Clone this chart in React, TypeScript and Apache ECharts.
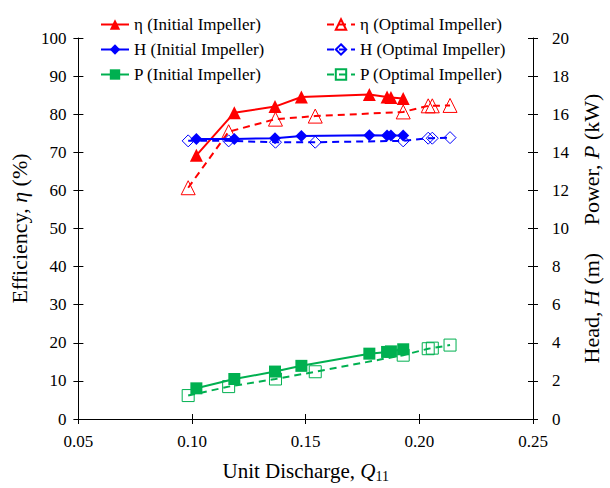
import React, { useEffect, useRef } from "react";
import * as echarts from "echarts";

// Unit discharge Q11 for each impeller's operating points
const Q_INIT = [0.1019, 0.1186, 0.1365, 0.1481, 0.178, 0.1858, 0.1875, 0.1929];
const Q_OPT = [0.0983, 0.1161, 0.1367, 0.1542, 0.1929, 0.2039, 0.2057, 0.2135];

// Efficiency (%)
const ETA_INIT = [69.2, 80.4, 82.0, 84.5, 85.2, 84.5, 84.4, 84.1];
const ETA_OPT = [60.7, 75.4, 78.7, 79.5, 80.6, 82.2, 82.2, 82.3];
// Head (m)
const H_INIT = [14.7, 14.7, 14.74, 14.86, 14.9, 14.88, 14.88, 14.88];
const H_OPT = [14.6, 14.6, 14.53, 14.53, 14.6, 14.74, 14.74, 14.77];
// Power (kW)
const P_INIT = [1.61, 2.1, 2.49, 2.79, 3.43, 3.52, 3.55, 3.66];
const P_OPT = [1.23, 1.7, 2.1, 2.48, 3.35, 3.69, 3.72, 3.88];

const NAMES = [
  "η (Initial Impeller)",
  "H (Initial Impeller)",
  "P (Initial Impeller)",
  "η (Optimal Impeller)",
  "H (Optimal Impeller)",
  "P (Optimal Impeller)",
];

const FONT = "'Liberation Serif', 'Times New Roman', serif";
const RED = "#ff0000";
const BLUE = "#0000ff";
const GREEN = "#00b050";

const pairs = (xs: number[], ys: number[]) => xs.map((x, i) => [x, ys[i]]);

export default function App() {
  const ref = useRef<HTMLDivElement>(null);

  useEffect(() => {
    if (!ref.current) return;
    const chart = echarts.init(ref.current, null, { renderer: "svg" });

    const solid = (name: string, color: string, symbol: string, size: number, data: number[][], yAxisIndex: number) => ({
      name,
      type: "line",
      yAxisIndex,
      data,
      symbol,
      symbolSize: size,
      itemStyle: { color },
      lineStyle: { color, width: 2 },
      z: 3,
    });
    const open = (name: string, color: string, symbol: string, size: number, data: number[][], yAxisIndex: number) => ({
      name,
      type: "line",
      yAxisIndex,
      data,
      symbol,
      symbolSize: size,
      itemStyle: { color: "rgba(255,255,255,0)", borderColor: color, borderWidth: 1 },
      lineStyle: { color, width: 2, type: [7, 5] },
      z: 2,
    });

    const axisText = { fontFamily: FONT, fontSize: 17, color: "#000" };
    const nameText = (size: number) => ({
      fontFamily: FONT,
      fontSize: size,
      color: "#000",
      rich: {
        i: { fontFamily: FONT, fontSize: size, fontStyle: "italic", color: "#000" },
        sub: { fontFamily: FONT, fontSize: 14, color: "#000", verticalAlign: "bottom", padding: [10, 0, 0, 0] },
      },
    });
    const line = { show: true, lineStyle: { color: "#000", width: 1 } };

    // Companion axes give each tick a half inside the plot area
    const innerX = {
      type: "value", min: 0.05, max: 0.25, interval: 0.05, position: "bottom",
      axisLine: { show: false }, axisLabel: { show: false }, splitLine: { show: false },
      axisTick: { show: true, inside: true, length: 5, lineStyle: { color: "#000" } },
    };
    const innerY = (pos: string, max: number, interval: number) => ({
      type: "value", min: 0, max, interval, position: pos,
      axisLine: { show: false }, axisLabel: { show: false }, splitLine: { show: false },
      axisTick: { show: true, inside: true, length: 5, lineStyle: { color: "#000" } },
    });

    const legendBase = {
      orient: "vertical",
      top: 11,
      itemWidth: 28,
      itemHeight: 13,
      itemGap: 8,
      textStyle: { fontFamily: FONT, fontSize: 17, color: "#000" },
      selectedMode: false,
    };

    chart.setOption({
      animation: false,
      grid: { left: 75, right: 66, top: 38, bottom: 64 },
      legend: [
        { ...legendBase, left: 95, data: NAMES.slice(0, 3) },
        { ...legendBase, left: 321, data: NAMES.slice(3) },
      ],
      xAxis: [
        {
          type: "value", min: 0.05, max: 0.25, interval: 0.05, position: "bottom",
          axisLine: line,
          axisTick: { show: true, length: 5, lineStyle: { color: "#000" } },
          axisLabel: { ...axisText, margin: 14, formatter: (v: number) => v.toFixed(2) },
          splitLine: { show: false },
          name: "Unit Discharge, {i|Q}{sub|11}",
          nameLocation: "middle",
          nameGap: 40,
          nameTextStyle: nameText(21),
        },
        innerX,
      ],
      yAxis: [
        {
          type: "value", min: 0, max: 100, interval: 10, position: "left",
          axisLine: line,
          axisTick: { show: true, length: 5, lineStyle: { color: "#000" } },
          axisLabel: { ...axisText, margin: 12 },
          splitLine: { show: false },
          name: "Efficiency, {i|η} (%)",
          nameLocation: "middle",
          nameRotate: 90,
          nameGap: 42,
          nameTextStyle: nameText(22),
        },
        {
          type: "value", min: 0, max: 20, interval: 2, position: "right",
          axisLine: line,
          axisTick: { show: true, length: 5, lineStyle: { color: "#000" } },
          axisLabel: { ...axisText, margin: 19 },
          splitLine: { show: false },
          name: "Head, {i|H} (m)     Power, {i|P} (kW)",
          nameLocation: "middle",
          nameRotate: 90,
          nameGap: 47,
          nameTextStyle: nameText(22),
        },
        innerY("left", 100, 10),
        innerY("right", 20, 2),
      ],
      series: [
        solid(NAMES[0], RED, "triangle", 13, pairs(Q_INIT, ETA_INIT), 0),
        solid(NAMES[1], BLUE, "diamond", 12, pairs(Q_INIT, H_INIT), 1),
        solid(NAMES[2], GREEN, "rect", 12, pairs(Q_INIT, P_INIT), 1),
        open(NAMES[3], RED, "triangle", 14, pairs(Q_OPT, ETA_OPT), 0),
        open(NAMES[4], BLUE, "diamond", 12, pairs(Q_OPT, H_OPT), 1),
        open(NAMES[5], GREEN, "rect", 12, pairs(Q_OPT, P_OPT), 1),
      ],
    });

    return () => chart.dispose();
  }, []);

  return (
    <div
      ref={ref}
      style={{ position: "absolute", left: 0, top: 0, width: 610, height: 488, background: "#fff" }}
    />
  );
}
